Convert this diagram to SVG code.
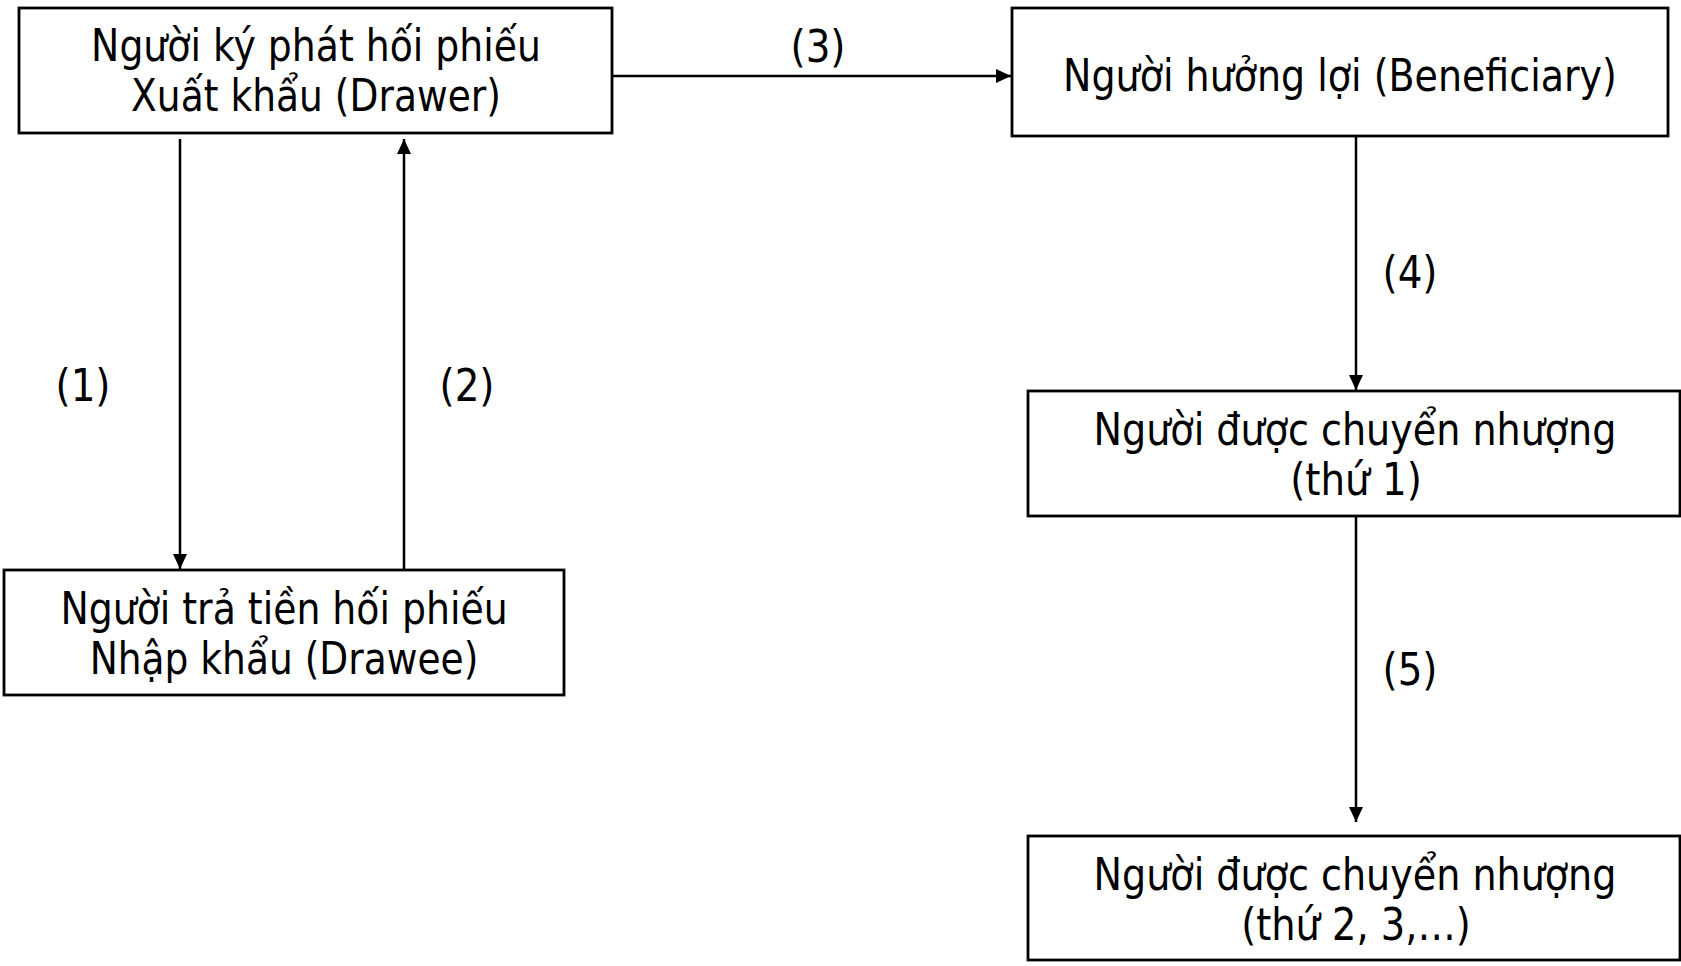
<svg xmlns="http://www.w3.org/2000/svg" width="1681" height="966" viewBox="0 0 1681 966">
<style>
.box{fill:#fff;stroke:#000;stroke-width:2.8}
.t{font-family:"DejaVu Sans",Verdana,sans-serif;font-size:44px;fill:#000;text-anchor:middle}
.c{stroke:#000;stroke-width:2.5;fill:none}
</style>
<defs>
<marker id="ah" viewBox="0 0 15 14" markerWidth="15" markerHeight="14" refX="15" refY="7" orient="auto" markerUnits="userSpaceOnUse">
<path d="M0,0 L15,7 L0,14 Z" fill="#000"/>
</marker>
</defs>
<rect width="1681" height="966" fill="#fff"/>
<g id="connectors">
<line class="c" x1="612" y1="76" x2="1011" y2="76" marker-end="url(#ah)"/>
<line class="c" x1="180" y1="139" x2="180" y2="569" marker-end="url(#ah)"/>
<line class="c" x1="404" y1="569" x2="404" y2="139" marker-end="url(#ah)"/>
<line class="c" x1="1356" y1="136" x2="1356" y2="390" marker-end="url(#ah)"/>
<line class="c" x1="1356" y1="516" x2="1356" y2="822" marker-end="url(#ah)"/>
<text class="t" transform="translate(818,62) scale(0.86,1)" textLength="64" lengthAdjust="spacingAndGlyphs">(3)</text>
<text class="t" transform="translate(83,401) scale(0.86,1)" textLength="64" lengthAdjust="spacingAndGlyphs">(1)</text>
<text class="t" transform="translate(467,401) scale(0.86,1)" textLength="64" lengthAdjust="spacingAndGlyphs">(2)</text>
<text class="t" transform="translate(1410,288) scale(0.86,1)" textLength="64" lengthAdjust="spacingAndGlyphs">(4)</text>
<text class="t" transform="translate(1410,685) scale(0.86,1)" textLength="64" lengthAdjust="spacingAndGlyphs">(5)</text>
</g>
<g id="drawer">
<rect class="box" x="19" y="8" width="593" height="125"/>
<text class="t" transform="translate(316,61) scale(0.86,1)" textLength="523" lengthAdjust="spacingAndGlyphs">Người ký phát hối phiếu</text>
<text class="t" transform="translate(316,111) scale(0.86,1)" textLength="430" lengthAdjust="spacingAndGlyphs">Xuất khẩu (Drawer)</text>
</g>
<g id="beneficiary">
<rect class="box" x="1012" y="8" width="656" height="128"/>
<text class="t" transform="translate(1340,91) scale(0.86,1)" textLength="644" lengthAdjust="spacingAndGlyphs">Người hưởng lợi (Beneficiary)</text>
</g>
<g id="drawee">
<rect class="box" x="4" y="570" width="560" height="125"/>
<text class="t" transform="translate(284,624) scale(0.86,1)" textLength="520" lengthAdjust="spacingAndGlyphs">Người trả tiền hối phiếu</text>
<text class="t" transform="translate(284,674) scale(0.86,1)" textLength="452" lengthAdjust="spacingAndGlyphs">Nhập khẩu (Drawee)</text>
</g>
<g id="endorsee1">
<rect class="box" x="1028" y="391" width="652" height="125"/>
<text class="t" transform="translate(1355,445) scale(0.86,1)" textLength="608" lengthAdjust="spacingAndGlyphs">Người được chuyển nhượng</text>
<text class="t" transform="translate(1356,495) scale(0.86,1)" textLength="153" lengthAdjust="spacingAndGlyphs">(thứ 1)</text>
</g>
<g id="endorsee2">
<rect class="box" x="1028" y="836" width="652" height="124"/>
<text class="t" transform="translate(1355,890) scale(0.86,1)" textLength="608" lengthAdjust="spacingAndGlyphs">Người được chuyển nhượng</text>
<text class="t" transform="translate(1356,940) scale(0.86,1)" textLength="267" lengthAdjust="spacingAndGlyphs">(thứ 2, 3,…)</text>
</g>
</svg>
